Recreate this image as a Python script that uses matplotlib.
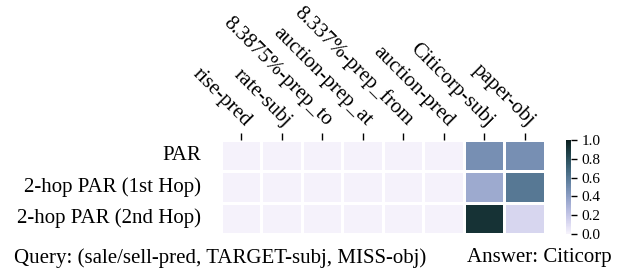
import numpy as np
import matplotlib
matplotlib.use("Agg")
import matplotlib.pyplot as plt
import seaborn as sns

# Data -------------------------------------------------------------
columns = ["rise-pred", "rate-subj", "8.3875%-prep_to", "auction-prep_at",
           "8.337%-prep_from", "auction-pred", "Citicorp-subj", "paper-obj"]
rows = ["PAR", "2-hop PAR (1st Hop)", "2-hop PAR (2nd Hop)"]

par = [0.01, 0.01, 0.01, 0.01, 0.01, 0.01, 0.48, 0.48]
hop1 = [0.01, 0.01, 0.01, 0.01, 0.01, 0.01, 0.34, 0.60]
hop2 = [0.01, 0.01, 0.01, 0.01, 0.01, 0.01, 0.92, 0.13]

query = "Query: (sale/sell-pred, TARGET-subj, MISS-obj)"
answer = "Answer: Citicorp"

plt.rcParams['font.family'] = ['Liberation Serif', 'DejaVu Serif']

fig = plt.figure(figsize=(6.17, 2.73), dpi=100)
ax = fig.add_axes([0.358, 0.143, 0.525, 0.344])
cax = fig.add_axes([0.917, 0.143, 0.009, 0.344])

cmap = sns.cubehelix_palette(start=2.36, rot=0.25, light=0.96, dark=0.1,
                             hue=0.7, as_cmap=True)

vals = np.array([par, hop1, hop2])
sns.heatmap(vals, ax=ax, cbar_ax=cax, cmap=cmap, vmin=0, vmax=1,
            linewidths=2, linecolor='white',
            xticklabels=columns, yticklabels=rows)

ax.xaxis.tick_top()
ax.tick_params(axis='x', length=5, width=1, pad=2, labelsize=15,
               top=True, bottom=False)
ax.tick_params(axis='y', length=0, pad=14, labelsize=15)
for lbl in ax.get_xticklabels():
    lbl.set_rotation(-45)
    lbl.set_ha('right')
    lbl.set_va('bottom')
    lbl.set_rotation_mode('anchor')
for lbl in ax.get_yticklabels():
    lbl.set_rotation(0)

cax.tick_params(labelsize=11, length=4, width=1)
cax.set_yticks([0, 0.2, 0.4, 0.6, 0.8, 1.0])

fig.text(0.022, 0.055, query, fontsize=15, va='center', ha='left')
fig.text(0.992, 0.055, answer, fontsize=15, va='center', ha='right')

fig.savefig("out.png", dpi=100)
